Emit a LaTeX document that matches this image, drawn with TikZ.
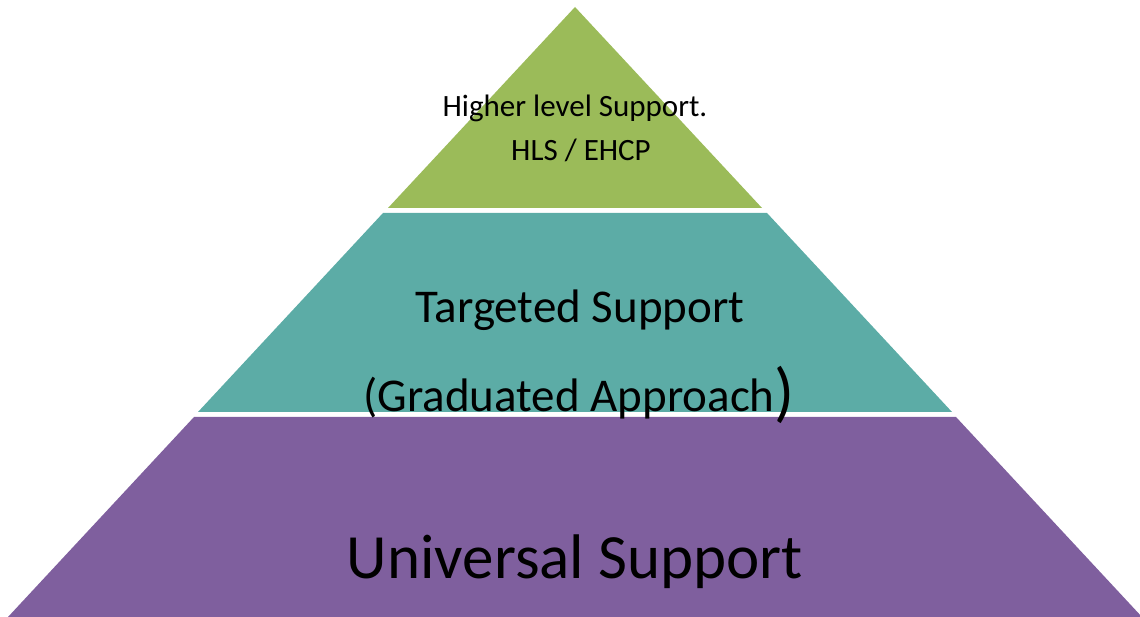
\documentclass[tikz,border=0pt]{standalone}
\usepackage{fontspec}
\setmainfont{Carlito}
\definecolor{lvlgreen}{HTML}{9BBB59}
\definecolor{lvlteal}{HTML}{5CACA6}
\definecolor{lvlpurple}{HTML}{7F5F9E}
\tikzset{lbl/.style={inner sep=0pt, text=black, anchor=center}}
\begin{document}
\begin{tikzpicture}[x=1pt,y=1pt]
\useasboundingbox (0,0) rectangle (1140,617);
\begin{scope}
\clip (0,0) rectangle (1140,617);
\fill[lvlgreen] (575,610) -- (388,409) -- (762,409) -- cycle;
\fill[lvlteal] (383,404) -- (767,404) -- (952,205) -- (198,205) -- cycle;
\fill[lvlpurple] (194,200) -- (956,200) -- (1142,0) -- (8,0) -- cycle;
\end{scope}
\node[lbl, font=\fontsize{31}{36}\selectfont] (hls1) at (575,509) {Higher level Support.};
\node[lbl, font=\fontsize{31}{36}\selectfont] (hls2) at (581,467) {HLS / EHCP};
\node[lbl, font=\fontsize{47}{54}\selectfont] (tgt) at (580,307) {Targeted Support};
\node[lbl, font=\fontsize{47}{54}\selectfont, anchor=base] (grad) at (579,205) {(Graduated Approach\raisebox{-3pt}{\fontsize{66}{70}\selectfont)}};
\node[lbl, font=\fontsize{63}{72}\selectfont] (univ) at (575,55) {Universal Support};
\end{tikzpicture}
\end{document}
